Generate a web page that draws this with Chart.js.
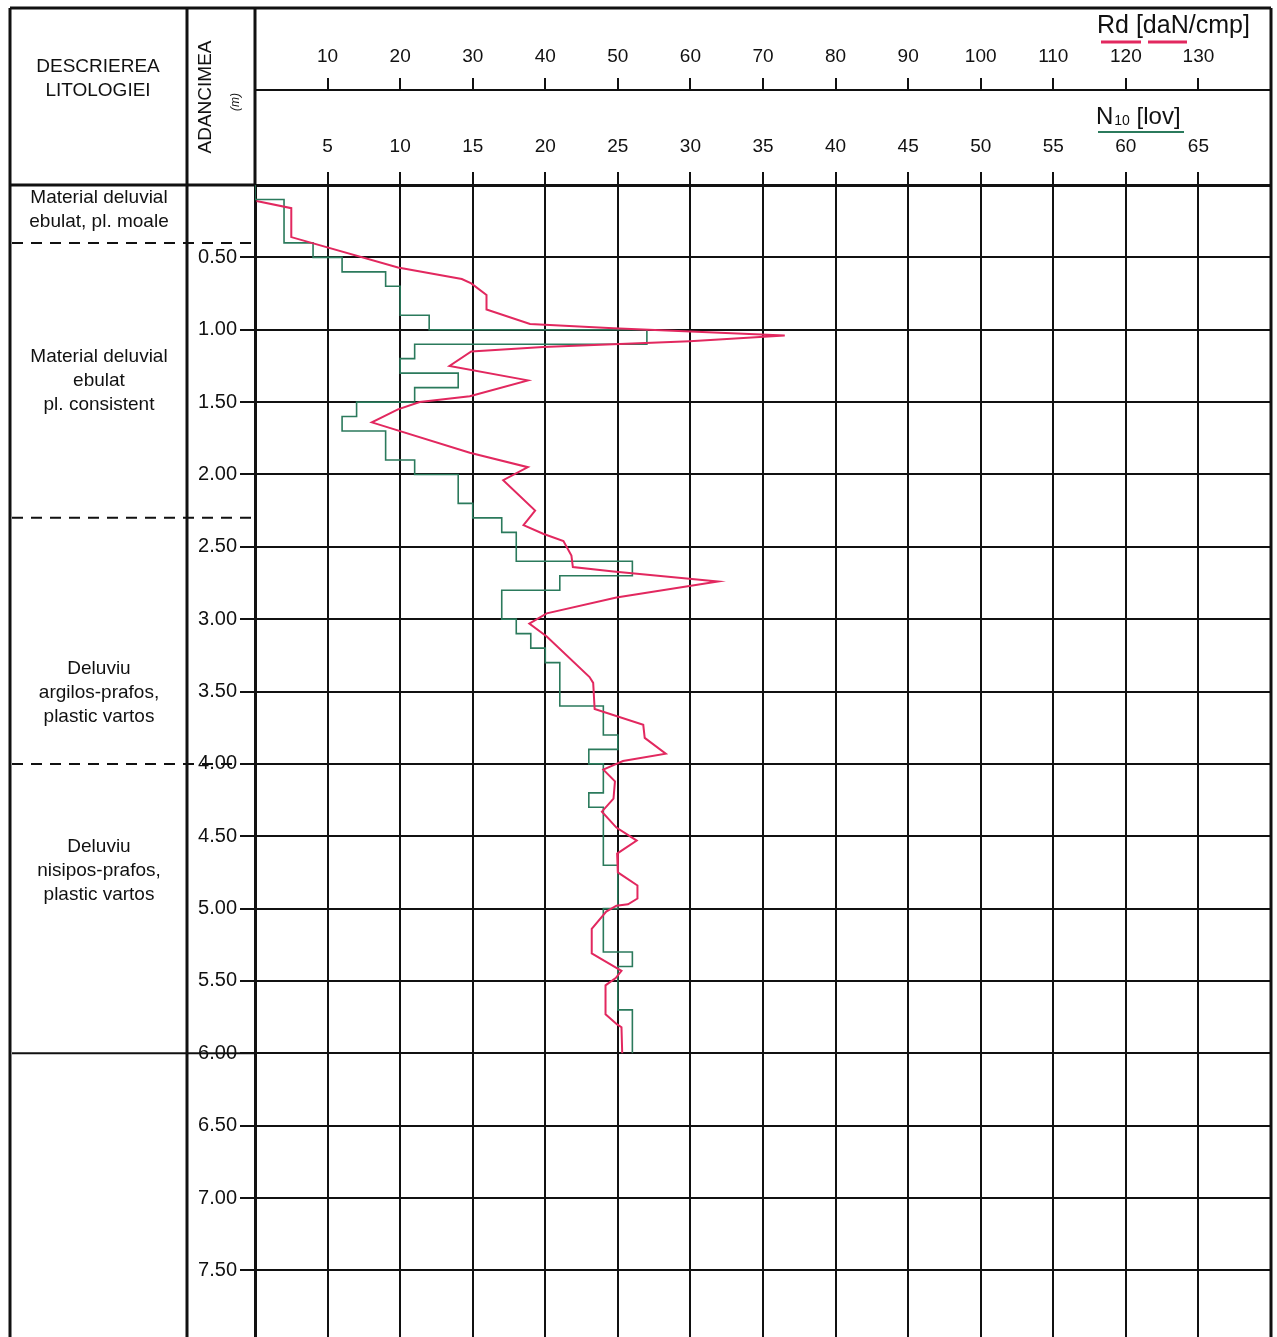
<!DOCTYPE html>
<html>
<head>
<meta charset="utf-8">
<script src="https://cdn.jsdelivr.net/npm/chart.js@4/dist/chart.umd.min.js"></script>
<style>
  html, body { margin: 0; padding: 0; background: #fff; overflow: hidden; }
  #wrap { width: 1277px; height: 1337px; }
</style>
</head>
<body>
<div id="wrap"><canvas id="penetrare"></canvas></div>
<script>
// N10 : adancimea de inceput a fiecarui pas de 10 cm (m) si numarul de lovituri
const n10Adancimi = [0.0, 0.1, 0.2, 0.3, 0.4, 0.5, 0.6, 0.7, 0.8, 0.9,
  1.0, 1.1, 1.2, 1.3, 1.4, 1.5, 1.6, 1.7, 1.8, 1.9,
  2.0, 2.1, 2.2, 2.3, 2.4, 2.5, 2.6, 2.7, 2.8, 2.9,
  3.0, 3.1, 3.2, 3.3, 3.4, 3.5, 3.6, 3.7, 3.8, 3.9,
  4.0, 4.1, 4.2, 4.3, 4.4, 4.5, 4.6, 4.7, 4.8, 4.9,
  5.0, 5.1, 5.2, 5.3, 5.4, 5.5, 5.6, 5.7, 5.8, 5.9, 6.0];
const n10Lovituri = [0, 2, 2, 2, 4, 6, 9, 10, 10, 12,
  27, 11, 10, 14, 11, 7, 6, 9, 9, 11,
  14, 14, 15, 17, 18, 18, 26, 21, 17, 17,
  18, 19, 20, 21, 21, 21, 24, 24, 25, 23,
  24, 24, 23, 24, 24, 24, 24, 25, 25, 25,
  24, 24, 24, 26, 25, 25, 25, 26, 26, 26, 26];

// Rd [daN/cmp] : varfurile curbei
const rdAdancimi = [0.11, 0.16, 0.36, 0.57, 0.65, 0.68, 0.76, 0.86, 0.96, 0.99,
  1.04, 1.08, 1.12, 1.15, 1.25, 1.35, 1.46, 1.50, 1.55, 1.64,
  1.85, 1.95, 2.04, 2.25, 2.35, 2.41, 2.46, 2.56, 2.64, 2.67,
  2.74, 2.85, 2.96, 3.03, 3.12, 3.40, 3.44, 3.62, 3.73, 3.82,
  3.93, 3.98, 4.00, 4.04, 4.12, 4.24, 4.33, 4.44, 4.53, 4.62,
  4.75, 4.84, 4.93, 4.97, 4.98, 5.02, 5.14, 5.31, 5.41, 5.43,
  5.48, 5.53, 5.73, 5.80, 5.82, 6.00];
const rdValori = [0.2, 5.0, 5.0, 19.7, 28.5, 29.8, 31.9, 31.9, 37.9, 49.4,
  73.0, 59.9, 39.7, 29.8, 26.8, 37.6, 29.6, 22.7, 19.7, 16.1,
  29.6, 37.6, 34.2, 38.6, 37.0, 39.7, 42.5, 43.6, 43.8, 49.4,
  63.8, 49.8, 40.2, 37.8, 40.2, 46.1, 46.6, 46.8, 53.5, 53.7,
  56.6, 50.7, 49.8, 48.0, 49.6, 49.4, 47.8, 49.8, 52.6, 49.9,
  50.0, 52.7, 52.7, 51.4, 49.8, 48.4, 46.4, 46.4, 49.8, 50.5,
  49.7, 48.3, 48.3, 49.9, 50.5, 50.6];

// Litologie
const straturiLimite = [0.4, 2.3, 4.0, 6.0];
const straturiDescriere = [
  ["Material deluvial", "ebulat, pl. moale"],
  ["Material deluvial", "ebulat", "pl. consistent"],
  ["Deluviu", "argilos-prafos,", "plastic vartos"],
  ["Deluviu", "nisipos-prafos,", "plastic vartos"]
];

const FONT = '"Liberation Sans", Arial, sans-serif';
const NEGRU = "#111";
const ROSU = "#e2285f";
const VERDE = "#2b7a5c";

// adancimea primului rand de text din fiecare strat
const textAdancime = [0.085, 1.19, 3.34, 4.57];

// fara spatiu suplimentar pentru etichete, ca zona graficului sa umple pagina
function fixeaza(marime) {
  return s => {
    if (s.isHorizontal()) s.height = marime; else s.width = marime;
    s.paddingLeft = 0; s.paddingRight = 0; s.paddingTop = 0; s.paddingBottom = 0;
  };
}

const pluginCadru = {
  id: "cadru",
  afterDraw(chart) {
    const ctx = chart.ctx;
    const y = chart.scales.y;
    const ca = chart.chartArea;
    const W = ca.right;
    ctx.save();
    ctx.strokeStyle = NEGRU;
    ctx.fillStyle = NEGRU;

    // chenar exterior si coloane
    ctx.lineWidth = 3;
    ctx.beginPath();
    ctx.moveTo(10, 8); ctx.lineTo(W, 8);
    ctx.moveTo(10, 8); ctx.lineTo(10, 1337);
    ctx.moveTo(187, 8); ctx.lineTo(187, 1337);
    ctx.moveTo(ca.left, 8); ctx.lineTo(ca.left, ca.top);
    ctx.moveTo(W, 8); ctx.lineTo(W, 1337);
    ctx.moveTo(10, ca.top); ctx.lineTo(ca.left, ca.top);
    ctx.stroke();

    // limite de strat
    ctx.lineWidth = 2;
    straturiLimite.forEach((d, i) => {
      const py = y.getPixelForValue(d);
      ctx.setLineDash(i < straturiLimite.length - 1 ? [11, 8] : []);
      ctx.beginPath();
      ctx.moveTo(12, py);
      ctx.lineTo(i < straturiLimite.length - 1 ? ca.left - 2 : ca.left, py);
      ctx.stroke();
    });
    ctx.setLineDash([]);

    // descrieri
    ctx.font = "19px " + FONT;
    ctx.textAlign = "center";
    ctx.textBaseline = "middle";
    straturiDescriere.forEach((rows, i) => {
      const py = y.getPixelForValue(textAdancime[i]);
      rows.forEach((r, j) => ctx.fillText(r, 99, py + j * 24));
    });

    // antet
    ctx.fillText("DESCRIEREA", 98, 67);
    ctx.fillText("LITOLOGIEI", 98, 91);

    ctx.save();
    ctx.translate(206, 97);
    ctx.rotate(-Math.PI / 2);
    ctx.fillText("ADANCIMEA", 0, 0);
    ctx.restore();
    ctx.save();
    ctx.translate(236, 102);
    ctx.rotate(-Math.PI / 2);
    ctx.font = "italic 12px " + FONT;
    ctx.fillText("(m)", 0, 0);
    ctx.restore();

    // legenda Rd
    ctx.textAlign = "left";
    ctx.font = "25px " + FONT;
    ctx.fillText("Rd [daN/cmp]", 1097, 26);
    ctx.strokeStyle = ROSU;
    ctx.lineWidth = 3;
    ctx.beginPath();
    ctx.moveTo(1101, 42); ctx.lineTo(1141, 42);
    ctx.moveTo(1148, 42); ctx.lineTo(1187, 42);
    ctx.stroke();

    // legenda N10
    let x = 1096;
    ctx.font = "24px " + FONT;
    ctx.fillText("N", x, 117);
    x += ctx.measureText("N").width + 1;
    ctx.font = "14px " + FONT;
    ctx.fillText("10", x, 121);
    x += ctx.measureText("10").width;
    ctx.font = "24px " + FONT;
    ctx.fillText(" [lov]", x, 117);
    ctx.strokeStyle = VERDE;
    ctx.lineWidth = 2;
    ctx.beginPath();
    ctx.moveTo(1098, 132); ctx.lineTo(1184, 132);
    ctx.stroke();

    ctx.restore();
  }
};

const puncteRd = rdAdancimi.map((d, i) => ({ x: rdValori[i], y: d }));
const puncteN10 = n10Adancimi.map((d, i) => ({ x: n10Lovituri[i], y: d }));

const tickFont = { family: FONT, size: 19 };

new Chart(document.querySelector("#penetrare"), {
  type: "scatter",
  data: {
    datasets: [
      {
        label: "Rd",
        data: puncteRd,
        xAxisID: "xRd",
        yAxisID: "y",
        showLine: true,
        borderColor: ROSU,
        borderWidth: 2,
        pointRadius: 0,
        tension: 0
      },
      {
        label: "N10",
        data: puncteN10,
        xAxisID: "xN",
        yAxisID: "y",
        showLine: true,
        stepped: "after",
        borderColor: VERDE,
        borderWidth: 1.6,
        pointRadius: 0
      }
    ]
  },
  options: {
    responsive: true,
    maintainAspectRatio: false,
    animation: false,
    layout: { padding: { left: 187, top: 8, right: 6, bottom: 0 } },
    plugins: { legend: { display: false }, tooltip: { enabled: false } },
    scales: {
      xN: {
        type: "linear",
        position: "top",
        min: 0,
        max: 70,
        weight: 0,
        afterFit: fixeaza(95),
        ticks: {
          stepSize: 5, autoSkip: false, maxRotation: 0, padding: 14,
          color: NEGRU, font: tickFont,
          callback: v => (v === 0 || v === 70) ? "" : v
        },
        grid: { color: NEGRU, lineWidth: 2, tickLength: 13 },
        border: { display: true, color: NEGRU, width: 3 }
      },
      xRd: {
        type: "linear",
        position: "top",
        min: 0,
        max: 140,
        weight: 1,
        afterFit: fixeaza(82),
        ticks: {
          stepSize: 10, autoSkip: false, maxRotation: 0, padding: 10,
          color: NEGRU, font: tickFont,
          callback: v => (v === 0 || v === 140) ? "" : v
        },
        grid: { drawOnChartArea: false, color: NEGRU, lineWidth: 2, tickLength: 12 },
        border: { display: true, color: NEGRU, width: 2 }
      },
      y: {
        type: "linear",
        position: "left",
        reverse: true,
        min: 0,
        max: 7.96,
        afterFit: fixeaza(68),
        ticks: {
          stepSize: 0.5, includeBounds: false, padding: 3,
          color: NEGRU, font: { family: FONT, size: 20 },
          callback: v => v === 0 ? "" : v.toFixed(2)
        },
        grid: { color: NEGRU, lineWidth: 2, tickLength: 15 },
        border: { display: true, color: NEGRU, width: 3 }
      }
    }
  },
  plugins: [pluginCadru]
});
</script>
</body>
</html>
